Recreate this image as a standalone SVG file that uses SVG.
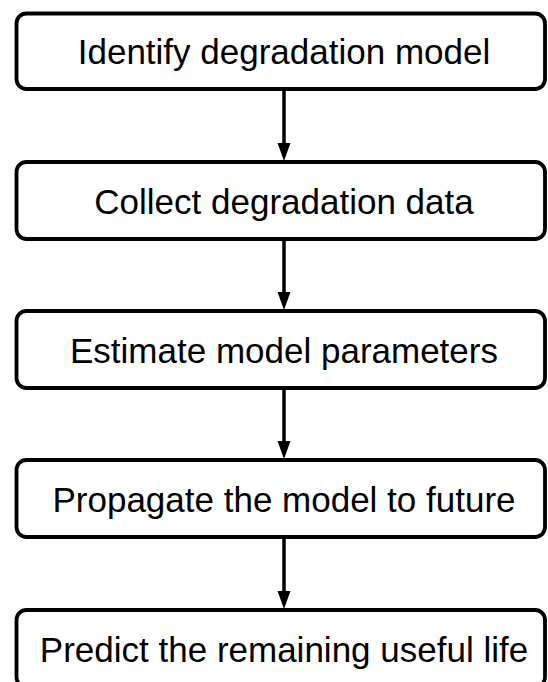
<svg xmlns="http://www.w3.org/2000/svg" width="548" height="682" viewBox="0 0 548 682">
<style>
.box{fill:#fff;stroke:#000;stroke-width:3.8}
.lbl{font-family:"Liberation Sans",Arial,sans-serif;font-size:35px;fill:#000;text-anchor:middle}
.conn{stroke:#000;stroke-width:3.5;fill:none}
.head{fill:#000}
</style>
<rect width="548" height="682" fill="#fff"/>
<g id="connectors">
<path class="conn" d="M284,89 V145"/>
<path class="head" d="M277.5,143 L290.5,143 L284,161 Z"/>
<path class="conn" d="M284,239 V294"/>
<path class="head" d="M277.5,292 L290.5,292 L284,310 Z"/>
<path class="conn" d="M284,388 V443"/>
<path class="head" d="M277.5,441 L290.5,441 L284,459 Z"/>
<path class="conn" d="M284,537 V593"/>
<path class="head" d="M277.5,591 L290.5,591 L284,609 Z"/>
</g>
<g id="n1"><rect class="box" x="16.5" y="13.5" width="528.5" height="75.5" rx="10"/><text class="lbl" x="284" y="63.5">Identify degradation model</text></g>
<g id="n2"><rect class="box" x="16.5" y="162" width="528.5" height="77" rx="10"/><text class="lbl" x="284" y="213.5">Collect degradation data</text></g>
<g id="n3"><rect class="box" x="16.5" y="311" width="528.5" height="77" rx="10"/><text class="lbl" x="284" y="362.5">Estimate model parameters</text></g>
<g id="n4"><rect class="box" x="16.5" y="460" width="528.5" height="77" rx="10"/><text class="lbl" x="284" y="511.5">Propagate the model to future</text></g>
<g id="n5"><rect class="box" x="16.5" y="610" width="528.5" height="77" rx="10"/><text class="lbl" x="284" y="661.5">Predict the remaining useful life</text></g>
</svg>
